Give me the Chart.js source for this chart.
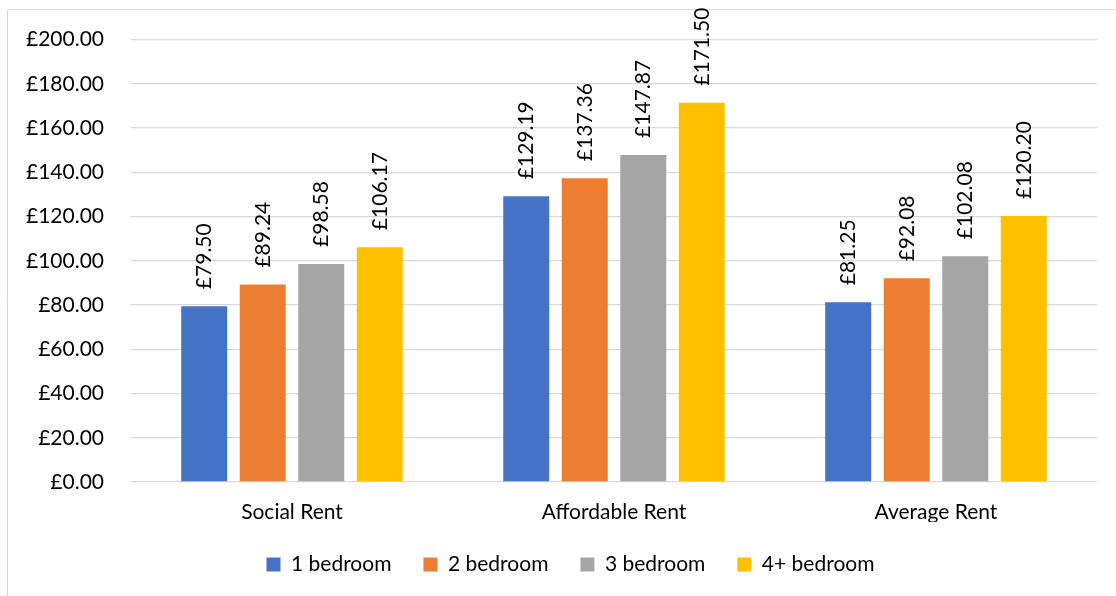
<!DOCTYPE html>
<html>
<head>
<meta charset="utf-8">
<script src="https://cdn.jsdelivr.net/npm/chart.js@4/dist/chart.umd.min.js"></script>
<style>
  html, body { margin: 0; padding: 0; background: #fff; }
  #wrap { width: 1116px; height: 596px; position: relative; }
</style>
</head>
<body>
<div id="wrap"><canvas id="chart" width="1116" height="596"></canvas></div>
<script>
const categories = ['Social Rent', 'Affordable Rent', 'Average Rent'];
const oneBed = [79.50, 129.19, 81.25];
const twoBed = [89.24, 137.36, 92.08];
const threeBed = [98.58, 147.87, 102.08];
const fourBed = [106.17, 171.50, 120.20];
const seriesNames = ['1 bedroom', '2 bedroom', '3 bedroom', '4+ bedroom'];
const colors = ['#4472C4', '#ED7D31', '#A5A5A5', '#FFC000'];

const FONT = 'Lato, "Open Sans", sans-serif';
const money = v => '£' + Number(v).toFixed(2);

// outer frame like the Excel chart area
const framePlugin = {
    id: 'frame',
    beforeDraw(chart) {
        const ctx = chart.ctx;
        ctx.save();
        ctx.strokeStyle = '#d9d9d9';
        ctx.lineWidth = 1;
        ctx.beginPath();
        ctx.moveTo(7.5, 600);
        ctx.lineTo(7.5, 9.5);
        ctx.lineTo(1120, 9.5);
        ctx.stroke();
        ctx.restore();
    },
    afterLayout(chart) {
        // legend is centred on the whole chart area, not the plot
        chart.legend.left += 22;
        chart.legend.right += 22;
    }
};

// rotated value labels above each bar
const valueLabels = {
    id: 'valueLabels',
    afterDatasetsDraw(chart) {
        const ctx = chart.ctx;
        ctx.save();
        ctx.font = '21px ' + FONT;
        ctx.fillStyle = '#000';
        ctx.textAlign = 'left';
        ctx.textBaseline = 'middle';
        chart.data.datasets.forEach((ds, i) => {
            chart.getDatasetMeta(i).data.forEach((bar, j) => {
                ctx.save();
                ctx.translate(bar.x, bar.y - 17);
                ctx.rotate(-Math.PI / 2);
                ctx.fillText(money(ds.data[j]), 0, 0);
                ctx.restore();
            });
        });
        ctx.restore();
    }
};

const data = [oneBed, twoBed, threeBed, fourBed];

new Chart(document.getElementById('chart'), {
    type: 'bar',
    data: {
        labels: categories,
        datasets: data.map((d, i) => ({
            label: seriesNames[i],
            data: d,
            backgroundColor: colors[i],
            categoryPercentage: 0.727,
            barPercentage: 0.786
        }))
    },
    options: {
        responsive: false,
        animation: false,
        layout: { padding: { left: 0, right: 19, top: 28, bottom: 11 } },
        scales: {
            y: {
                min: 0,
                max: 200,
                afterFit: s => { s.width = 131; },
                ticks: {
                    stepSize: 20,
                    padding: 27,
                    color: '#000',
                    font: { family: FONT, size: 21 },
                    callback: v => money(v)
                },
                grid: { color: '#d9d9d9', lineWidth: 1.3, drawTicks: false },
                border: { display: false }
            },
            x: {
                afterFit: s => { s.height = 40; },
                ticks: {
                    color: '#000',
                    padding: 18,
                    font: { family: FONT, size: 21 }
                },
                grid: { display: false, drawTicks: false },
                border: { display: false }
            }
        },
        plugins: {
            legend: {
                position: 'bottom',
                labels: {
                    color: '#000',
                    font: { family: FONT, size: 21 },
                    boxWidth: 14,
                    boxHeight: 14,
                    padding: 32
                }
            },
            tooltip: { enabled: false }
        }
    },
    plugins: [framePlugin, valueLabels]
});
</script>
</body>
</html>
